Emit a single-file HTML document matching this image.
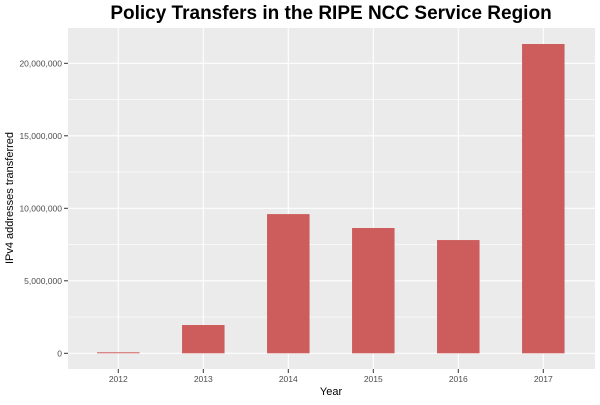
<!DOCTYPE html>
<html><head><meta charset="utf-8"><style>
body{margin:0;background:#fff;font-family:"Liberation Sans",sans-serif}
</style></head><body>
<svg id="chart" width="600" height="400" xmlns="http://www.w3.org/2000/svg">
<text x="331" y="19" text-anchor="middle" font-size="19" font-weight="bold" fill="#000">Policy Transfers in the RIPE NCC Service Region</text>
<rect x="68" y="28" width="527" height="341" fill="#EBEBEB"/>
<g id="grid"></g><g id="bars"></g><g id="axes"></g>
<text x="331" y="395" text-anchor="middle" font-size="11" fill="#000">Year</text>
<text transform="translate(13,198) rotate(-90)" text-anchor="middle" font-size="11" fill="#000">IPv4 addresses transferred</text>
</svg>
<script>
const categories=["2012","2013","2014","2015","2016","2017"];
const values=[50000,1950000,9600000,8640000,7810000,21330000];
const yTicks=[0,5000000,10000000,15000000,20000000];
const yTickLabels=["0","5,000,000","10,000,000","15,000,000","20,000,000"];
const NS="http://www.w3.org/2000/svg";
const x=i=>118.3+i*85;
const y=v=>353.3-v*290/20000000;
const grid=document.getElementById('grid'),bars=document.getElementById('bars'),axes=document.getElementById('axes');
function mk(tag,at,parent){const e=document.createElementNS(NS,tag);for(const k in at)e.setAttribute(k,at[k]);parent.appendChild(e);return e;}
for(let t=-2500000;t<=22500000;t+=5000000){const l=mk('line',{x1:68,x2:595,y1:y(t),y2:y(t),stroke:'#fff','stroke-width':0.6},grid);

}
yTicks.forEach((t,i)=>{const l=mk('line',{x1:68,x2:595,y1:y(t),y2:y(t),stroke:'#fff','stroke-width':1.1},grid);


const tk=mk('line',{x1:64,x2:68,y1:y(t),y2:y(t),stroke:'#333','stroke-width':1},axes);


const tx=mk('text',{x:62,y:y(t)+3,'text-anchor':'end','font-size':8.5,fill:'#4D4D4D'},axes);tx.textContent=yTickLabels[i];

});
categories.forEach((c,i)=>{const g=mk('line',{x1:x(i),x2:x(i),y1:28,y2:369,stroke:'#fff','stroke-width':1.1},grid);


const h=Math.max(1,y(0)-y(values[i]));
const b=mk('rect',{x:x(i)-21.25,y:y(0)-h,width:42.5,height:h,fill:'#CD5C5C'},bars);


const tk=mk('line',{x1:x(i),x2:x(i),y1:369,y2:373,stroke:'#333','stroke-width':1},axes);


const tx=mk('text',{x:x(i),y:382,'text-anchor':'middle','font-size':8.5,fill:'#4D4D4D'},axes);tx.textContent=c;

});
</script>
</body></html>
